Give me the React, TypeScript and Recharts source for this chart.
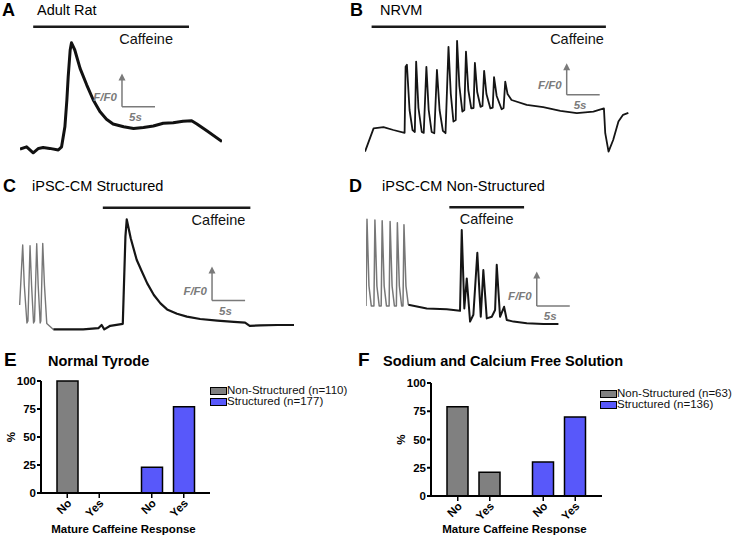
import React from 'react';
import { LineChart, Line, XAxis, YAxis, ReferenceLine, BarChart, Bar, Cell, Legend } from 'recharts';

const FONT = '"Liberation Sans", Arial, Helvetica, sans-serif';
const PX_PER_SEC = 6.6;
const SCALE_GRAY = '#7a7a7a';
const SPIKE_GRAY = '#777777';
const BAR_SIZE = 21;
const BAR_GAP = 11;

// ---- calcium traces: time (s) and F/F0 ----
const adultRatTime = [0, 1.0, 2.0, 2.8, 3.5, 4.5, 5.8, 6.3, 6.8, 7.1, 7.3, 7.6, 7.8, 8.3, 9.1, 10.1, 11.1, 12.1, 13.1, 14.1, 15.7, 17.2, 18.7, 20.2, 21.7, 23.2, 24.7, 26.0, 26.8, 28.3, 30.6];
const adultRatRatio = [1.02, 1.08, 0.93, 1.04, 1.06, 1.04, 1.0, 1.08, 1.58, 2.25, 2.83, 3.5, 3.68, 3.5, 3.04, 2.63, 2.25, 1.96, 1.77, 1.65, 1.58, 1.54, 1.56, 1.6, 1.67, 1.68, 1.72, 1.73, 1.65, 1.48, 1.21];

const nrvmTime = [
  0, 1.3, 2.8, 4.3, 6.0,
  6.15, 6.35, 6.75, 7.2, 7.55,
  7.75, 8.1, 8.6, 8.9,
  9.3, 9.65, 10.1, 10.5,
  10.9, 11.3, 11.8, 12.2,
  12.65, 13.0, 13.4, 13.75,
  13.95, 14.3, 14.75, 15.05,
  15.3, 15.65, 16.1, 16.45,
  16.65, 17.0, 17.5, 17.8,
  18.05, 18.4, 19.0, 19.35,
  19.55, 19.95, 20.7, 21.0,
  21.25, 21.6, 22.2, 24.5, 27.0, 29.6, 32.1, 34.6, 36.2, 36.4, 36.9, 37.6, 38.4, 39.1, 39.9,
];
const nrvmRatio = [
  0.46, 1.04, 1.07, 1.0, 0.93,
  2.58, 2.63, 1.5, 1.0, 0.95,
  2.71, 1.55, 0.95, 0.93,
  2.58, 1.5, 0.95, 0.92,
  2.5, 1.5, 0.98, 0.92,
  3.08, 1.9, 1.21, 1.25,
  3.23, 2.1, 1.46, 1.5,
  2.96, 2.0, 1.54, 1.55,
  2.68, 1.95, 1.58, 1.6,
  2.48, 1.9, 1.54, 1.56,
  2.32, 1.85, 1.52, 1.55,
  2.21, 1.9, 1.75, 1.63, 1.57, 1.48, 1.42, 1.46, 1.54, 0.92, 0.46, 0.75, 1.21, 1.38, 1.43,
];

const structuredPaceTime = [0.1, 0.56, 0.8, 1.2, 1.35, 1.67, 1.9, 2.2, 2.35, 2.68, 2.9, 3.2, 3.3, 3.59, 3.85, 4.2, 5.2];
const structuredPaceRatio = [1.5, 3.0, 2.0, 1.05, 1.1, 2.98, 2.0, 1.05, 1.1, 3.03, 2.0, 1.05, 1.1, 3.04, 2.0, 1.04, 0.89];
const structuredTime = [5.2, 7.2, 9.7, 12.0, 12.5, 12.9, 13.8, 15.7, 16.1, 16.3, 16.9, 17.8, 18.6, 19.4, 20.4, 21.4, 22.4, 23.9, 25.4, 27.4, 30.0, 32.5, 34.2, 34.9, 36.5, 39.1, 41.6];
const structuredRatio = [0.89, 0.89, 0.89, 0.92, 1.0, 0.89, 0.98, 1.03, 3.21, 3.64, 3.17, 2.63, 2.33, 2.04, 1.75, 1.54, 1.39, 1.28, 1.21, 1.15, 1.11, 1.08, 1.06, 0.98, 0.99, 1.0, 1.0];

const nonStructPaceTime = [0, 0.15, 0.45, 0.8, 1.2, 1.35, 1.65, 2.0, 2.3, 2.45, 2.75, 3.1, 3.5, 3.65, 3.95, 4.3, 4.6, 4.75, 5.05, 5.4, 5.6, 5.75, 6.05, 6.41];
const nonStructPaceRatio = [1.0, 3.17, 1.5, 1.0, 1.0, 3.15, 1.5, 1.0, 1.0, 3.13, 1.5, 1.0, 1.0, 3.11, 1.5, 1.0, 1.0, 3.08, 1.5, 1.0, 1.0, 3.03, 1.5, 1.03];
const nonStructTime = [6.41, 9.2, 12.23, 14.24, 14.5, 14.89, 15.26, 15.76, 16.26, 16.86, 17.38, 17.77, 18.29, 19.05, 19.55, 19.8, 20.3, 20.91, 21.32, 22.32, 24.35, 26.86, 29.14];
const nonStructRatio = [1.03, 0.94, 0.92, 0.88, 2.9, 0.94, 1.69, 0.61, 0.78, 2.33, 0.73, 1.9, 0.69, 0.73, 0.9, 2.03, 0.73, 0.98, 0.65, 0.61, 0.57, 0.55, 0.55];

// ---- bar panels: % of cells ----
const groups = ['Non-Structured', 'Structured'];
const responses = ['No', 'Yes'];
const groupColors = ['#808080', '#5858fa'];
const tyrodeNo = [100, 23];
const tyrodeYes = [0, 77];
const tyrodeCounts = [110, 177];
const freeNo = [79, 30];
const freeYes = [21, 70];
const freeCounts = [63, 136];
const percentTicks = [0, 25, 50, 75, 100];

const toPoints = (t: number[], f: number[]) => t.map((time, i) => ({ t: time, f: f[i] }));

const caffeineShape = (anchor: 'end' | 'middle', dx: number) => (p: any) => {
  const xa = Math.min(p.x1, p.x2);
  const xb = Math.max(p.x1, p.x2);
  const tx = anchor === 'end' ? xb + dx : (xa + xb) / 2;
  return (
    <g>
      <line x1={xa} y1={p.y1} x2={xb} y2={p.y2} stroke="#1a1a1a" strokeWidth={2.5} />
      <text x={tx} y={p.y1 + 17} textAnchor={anchor} fontSize={14.5} fontFamily={FONT} fill="#111">
        Caffeine
      </text>
    </g>
  );
};

const secondsShape = (p: any) => {
  const xa = Math.min(p.x1, p.x2);
  const xb = Math.max(p.x1, p.x2);
  return (
    <g>
      <line x1={xa} y1={p.y1} x2={xb} y2={p.y2} stroke={SCALE_GRAY} strokeWidth={1.5} />
      <text x={xa + 7} y={p.y1 + 14} fontSize={11.5} fontWeight={700} fontStyle="italic" fontFamily={FONT} fill={SCALE_GRAY}>
        5s
      </text>
    </g>
  );
};

const ratioShape = (p: any) => {
  const top = Math.min(p.y1, p.y2);
  const bottom = Math.max(p.y1, p.y2);
  const x = p.x1;
  return (
    <g>
      <line x1={x} y1={bottom} x2={x} y2={top + 6} stroke={SCALE_GRAY} strokeWidth={1.5} />
      <polygon points={`${x - 3.5},${top + 7} ${x + 3.5},${top + 7} ${x},${top}`} fill={SCALE_GRAY} />
      <text x={x - 5} y={bottom - 6} textAnchor="end" fontSize={11.5} fontWeight={700} fontStyle="italic" fontFamily={FONT} fill={SCALE_GRAY}>
        F/F0
      </text>
    </g>
  );
};

interface TraceSeries {
  points: { t: number; f: number }[];
  color: string;
  width: number;
}

interface TraceProps {
  left: number;
  top: number;
  tMax: number;
  fDomain: [number, number];
  series: TraceSeries[];
  caffeine: { from: number; to: number; level: number; anchor: 'end' | 'middle'; dx: number };
  scaleBar: { t: number; f: number; df: number };
}

const TracePanel: React.FC<TraceProps> = ({ left, top, tMax, fDomain, series, caffeine, scaleBar }) => {
  const width = Math.round(tMax * PX_PER_SEC);
  const height = (fDomain[1] - fDomain[0]) * 40;
  return (
    <div style={{ position: 'absolute', left, top }}>
      <LineChart width={width} height={height} margin={{ top: 0, right: 0, bottom: 0, left: 0 }}>
        <XAxis type="number" dataKey="t" domain={[0, tMax]} hide allowDataOverflow />
        <YAxis type="number" dataKey="f" domain={fDomain} hide allowDataOverflow />
        {series.map((s, i) => (
          <Line
            key={i}
            data={s.points}
            dataKey="f"
            type="linear"
            stroke={s.color}
            strokeWidth={s.width}
            strokeLinejoin="round"
            dot={false}
            activeDot={false}
            isAnimationActive={false}
          />
        ))}
        <ReferenceLine
          segment={[{ x: caffeine.from, y: caffeine.level }, { x: caffeine.to, y: caffeine.level }]}
          ifOverflow="visible"
          shape={caffeineShape(caffeine.anchor, caffeine.dx)}
        />
        <ReferenceLine
          segment={[{ x: scaleBar.t, y: scaleBar.f }, { x: scaleBar.t + 5, y: scaleBar.f }]}
          ifOverflow="visible"
          shape={secondsShape}
        />
        <ReferenceLine
          segment={[{ x: scaleBar.t, y: scaleBar.f }, { x: scaleBar.t, y: scaleBar.f + scaleBar.df }]}
          ifOverflow="visible"
          shape={ratioShape}
        />
      </LineChart>
    </div>
  );
};

// each group tick carries a short mark + rotated No / Yes under its two bars
const responseTicks = (props: any) => {
  const { x, y } = props;
  const pitch = BAR_SIZE + BAR_GAP;
  return (
    <g>
      {responses.map((r, j) => {
        const cx = x + (j === 0 ? -pitch / 2 : pitch / 2);
        return (
          <g key={r}>
            <line x1={cx} x2={cx} y1={y + 1} y2={y + 5} stroke="#000" strokeWidth={1.5} />
            <text
              transform={`translate(${cx + 5},${y + 11}) rotate(-45)`}
              textAnchor="end"
              fontSize={11.5}
              fontWeight={700}
              fontFamily={FONT}
              fill="#000"
            >
              {r}
            </text>
          </g>
        );
      })}
    </g>
  );
};

const legendContent = (counts: number[]) => () => (
  <div style={{ fontFamily: FONT, fontSize: 11.5, color: '#111' }}>
    {groups.map((g, i) => (
      <div key={g} style={{ display: 'flex', alignItems: 'center', height: 11, whiteSpace: 'nowrap' }}>
        <span
          style={{ display: 'inline-block', width: 15, height: 6, background: groupColors[i], border: '1px solid #000' }}
        />
        <span style={{ lineHeight: '11px' }}>{`${g} (n=${counts[i]})`}</span>
      </div>
    ))}
  </div>
);

interface BarPanelProps {
  left: number;
  top: number;
  width: number;
  height: number;
  yAxisWidth: number;
  marginTop: number;
  marginRight: number;
  xAxisHeight: number;
  no: number[];
  yes: number[];
  counts: number[];
  legendLeft: number;
  legendTop: number;
}

const ResponseBars: React.FC<BarPanelProps> = (p) => {
  const data = groups.map((g, i) => ({ group: g, No: p.no[i], Yes: p.yes[i] }));
  return (
    <div style={{ position: 'absolute', left: p.left, top: p.top }}>
      <BarChart
        width={p.width}
        height={p.height}
        data={data}
        margin={{ top: p.marginTop, right: p.marginRight, bottom: 0, left: 0 }}
        barGap={BAR_GAP}
        barSize={BAR_SIZE}
      >
        <XAxis
          dataKey="group"
          interval={0}
          tick={responseTicks}
          tickLine={false}
          tickSize={0}
          tickMargin={0}
          axisLine={{ stroke: '#000', strokeWidth: 2 }}
          height={p.xAxisHeight}
          label={({ viewBox }: any) => (
            <text
              x={viewBox.x + viewBox.width / 2 - 2}
              y={viewBox.y + viewBox.height - 4}
              textAnchor="middle"
              fontSize={11.5}
              fontWeight={700}
              fontFamily={FONT}
              fill="#000"
            >
              Mature Caffeine Response
            </text>
          )}
        />
        <YAxis
          domain={[0, 100]}
          ticks={percentTicks}
          width={p.yAxisWidth}
          axisLine={{ stroke: '#000', strokeWidth: 2 }}
          tickLine={{ stroke: '#000', strokeWidth: 2 }}
          tickSize={4}
          tickMargin={1}
          tick={{ fill: '#000', fontSize: 11.5, fontWeight: 700, fontFamily: FONT }}
          label={({ viewBox }: any) => {
            const x = viewBox.x + viewBox.width - 30;
            const y = viewBox.y + viewBox.height / 2;
            return (
              <text
                x={x}
                y={y}
                transform={`rotate(-90 ${x} ${y})`}
                textAnchor="middle"
                dominantBaseline="central"
                fontSize={11.5}
                fontWeight={700}
                fontFamily={FONT}
                fill="#000"
              >
                %
              </text>
            );
          }}
        />
        <Legend
          layout="vertical"
          align="center"
          verticalAlign="middle"
          content={legendContent(p.counts)}
          wrapperStyle={{ left: p.legendLeft, top: p.legendTop, width: 170 }}
        />
        {responses.map((r) => (
          <Bar key={r} dataKey={r} stroke="#000" strokeWidth={1.5} isAnimationActive={false}>
            {groups.map((g, i) => (
              <Cell key={g} fill={groupColors[i]} />
            ))}
          </Bar>
        ))}
      </BarChart>
    </div>
  );
};

const headStyle = { fontFamily: FONT, fill: '#000' };

export default function App() {
  return (
    <div
      style={{ position: 'absolute', left: 0, top: 0, width: 739, height: 537, background: '#fff', overflow: 'hidden' }}
    >
      <TracePanel
        left={20}
        top={10}
        tMax={30.6}
        fDomain={[0.5, 4.5]}
        series={[{ points: toPoints(adultRatTime, adultRatRatio), color: '#111', width: 3 }]}
        caffeine={{ from: 2.0, to: 25.6, level: 4.08, anchor: 'end', dx: -16 }}
        scaleBar={{ t: 15.45, f: 2.08, df: 0.83 }}
      />
      <TracePanel
        left={365}
        top={10}
        tMax={40}
        fDomain={[0, 4]}
        series={[{ points: toPoints(nrvmTime, nrvmRatio), color: '#151515', width: 1.8 }]}
        caffeine={{ from: 1.0, to: 36.5, level: 3.58, anchor: 'end', dx: -2 }}
        scaleBar={{ t: 30.56, f: 1.88, df: 0.79 }}
      />
      <TracePanel
        left={19}
        top={185}
        tMax={41.6}
        fDomain={[0.5, 4.5]}
        series={[
          { points: toPoints(structuredPaceTime, structuredPaceRatio), color: SPIKE_GRAY, width: 1.4 },
          { points: toPoints(structuredTime, structuredRatio), color: '#151515', width: 2.2 },
        ]}
        caffeine={{ from: 12.68, to: 35.0, level: 3.93, anchor: 'end', dx: -5 }}
        scaleBar={{ t: 29.2, f: 1.61, df: 0.85 }}
      />
      <TracePanel
        left={366}
        top={186}
        tMax={31.5}
        fDomain={[0, 4]}
        series={[
          { points: toPoints(nonStructPaceTime, nonStructPaceRatio), color: SPIKE_GRAY, width: 1.5 },
          { points: toPoints(nonStructTime, nonStructRatio), color: '#151515', width: 2 },
        ]}
        caffeine={{ from: 12.62, to: 23.94, level: 3.47, anchor: 'middle', dx: 0 }}
        scaleBar={{ t: 25.86, f: 1.0, df: 0.86 }}
      />

      <ResponseBars
        left={0}
        top={370}
        width={360}
        height={167}
        yAxisWidth={41}
        marginTop={11}
        marginRight={150}
        xAxisHeight={44}
        no={tyrodeNo}
        yes={tyrodeYes}
        counts={tyrodeCounts}
        legendLeft={210}
        legendTop={15}
      />
      <ResponseBars
        left={370}
        top={372}
        width={369}
        height={165}
        yAxisWidth={61}
        marginTop={11}
        marginRight={137}
        xAxisHeight={41}
        no={freeNo}
        yes={freeYes}
        counts={freeCounts}
        legendLeft={230}
        legendTop={16}
      />

      <svg width={739} height={537} style={{ position: 'absolute', left: 0, top: 0, pointerEvents: 'none' }}>
        <g style={headStyle}>
          <text x={2} y={16} fontSize={18} fontWeight={700}>A</text>
          <text x={37} y={15} fontSize={14.5}>Adult Rat</text>
          <text x={350} y={16} fontSize={18} fontWeight={700}>B</text>
          <text x={380} y={15} fontSize={14.5}>NRVM</text>
          <text x={3} y={192} fontSize={18} fontWeight={700}>C</text>
          <text x={32} y={191} fontSize={14.5}>iPSC-CM Structured</text>
          <text x={349} y={192} fontSize={18} fontWeight={700}>D</text>
          <text x={382} y={191} fontSize={14.5}>iPSC-CM Non-Structured</text>
          <text x={4} y={366} fontSize={19} fontWeight={700}>E</text>
          <text x={48} y={366} fontSize={14.5} fontWeight={700}>Normal Tyrode</text>
          <text x={358} y={366} fontSize={19} fontWeight={700}>F</text>
          <text x={383} y={366} fontSize={14.5} fontWeight={700}>Sodium and Calcium Free Solution</text>
        </g>
      </svg>
    </div>
  );
}
